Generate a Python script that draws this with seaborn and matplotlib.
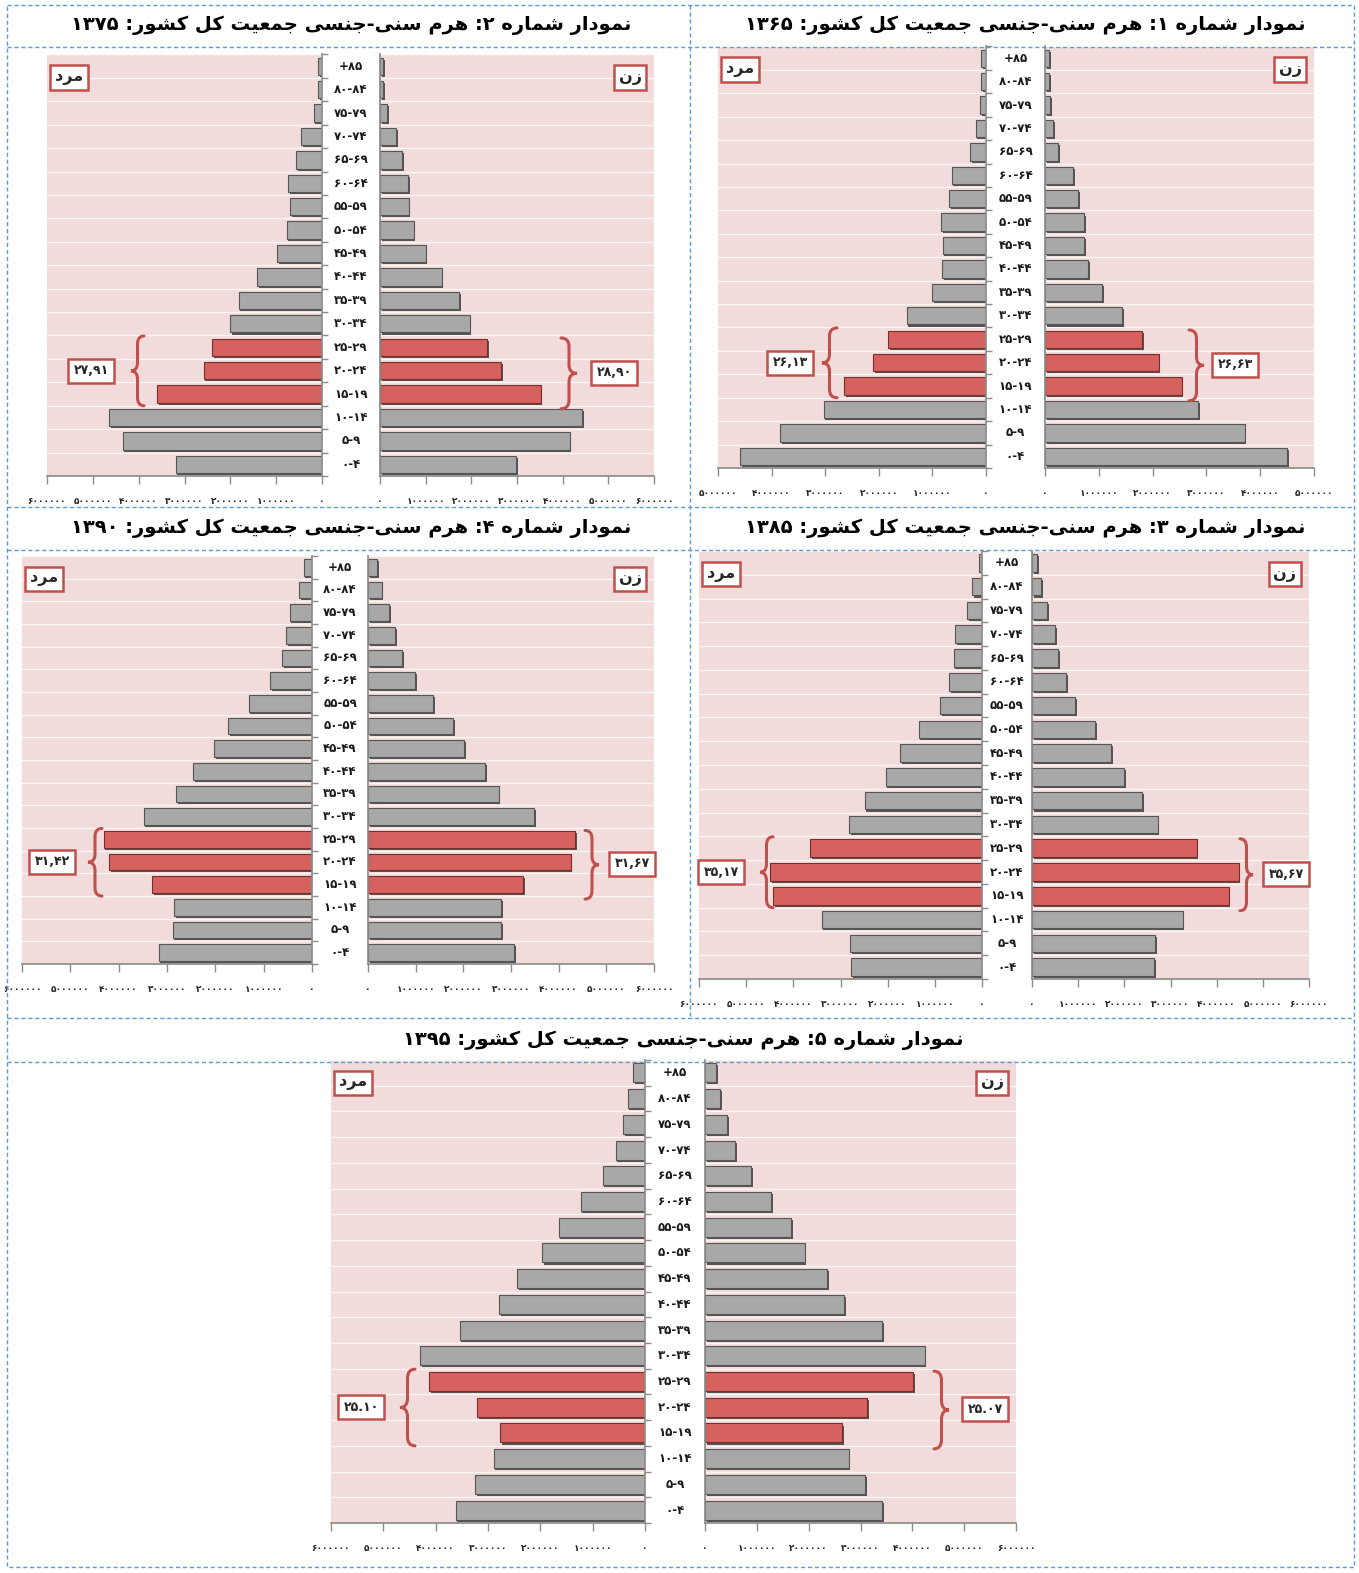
import re
import numpy as np
import pandas as pd
import matplotlib
matplotlib.use('Agg')
import matplotlib.pyplot as plt
import matplotlib.transforms as mtransforms
import matplotlib.patheffects as pe
from matplotlib.path import Path
from matplotlib.patches import PathPatch
import seaborn as sns

sns.set_theme(style='white')
plt.rcParams['font.family'] = ['DejaVu Sans']

# ---- data -------------------------------------------------------------
ages = ['+۸۵', '۸۰-۸۴', '۷۵-۷۹', '۷۰-۷۴', '۶۵-۶۹', '۶۰-۶۴', '۵۵-۵۹', '۵۰-۵۴', '۴۵-۴۹',
        '۴۰-۴۴', '۳۵-۳۹', '۳۰-۳۴', '۲۵-۲۹', '۲۰-۲۴', '۱۵-۱۹', '۱۰-۱۴', '۵-۹', '۰-۴']
youth_ages = ['۲۵-۲۹', '۲۰-۲۴', '۱۵-۱۹']

years = ['۱۳۶۵', '۱۳۷۵', '۱۳۸۵', '۱۳۹۰', '۱۳۹۵']
chart_numbers = ['۱', '۲', '۳', '۴', '۵']

male_1365 = [90000, 90000, 110000, 190000, 300000, 640000, 690000, 840000, 810000,
             820000, 1010000, 1480000, 1820000, 2100000, 2640000, 3030000, 3840000, 4590000]
female_1365 = [80000, 80000, 90000, 150000, 250000, 520000, 620000, 730000, 730000,
               800000, 1060000, 1440000, 1810000, 2110000, 2540000, 2850000, 3710000, 4500000]

male_1375 = [90000, 90000, 180000, 460000, 570000, 740000, 700000, 770000, 980000,
             1420000, 1820000, 2010000, 2390000, 2580000, 3590000, 4640000, 4350000, 3190000]
female_1375 = [70000, 70000, 150000, 350000, 480000, 610000, 630000, 740000, 1000000,
               1350000, 1740000, 1960000, 2350000, 2650000, 3520000, 4430000, 4150000, 2980000]

male_1385 = [60000, 210000, 320000, 570000, 600000, 700000, 890000, 1340000, 1740000,
             2040000, 2490000, 2810000, 3640000, 4490000, 4430000, 3400000, 2790000, 2770000]
female_1385 = [110000, 200000, 330000, 500000, 570000, 740000, 930000, 1370000, 1720000,
               2000000, 2390000, 2720000, 3570000, 4480000, 4260000, 3260000, 2670000, 2650000]

male_1390 = [170000, 270000, 460000, 540000, 620000, 870000, 1310000, 1730000, 2020000,
             2460000, 2810000, 3480000, 4310000, 4190000, 3310000, 2850000, 2880000, 3170000]
female_1390 = [190000, 290000, 440000, 570000, 720000, 990000, 1370000, 1790000, 2020000,
               2460000, 2740000, 3490000, 4340000, 4250000, 3260000, 2800000, 2800000, 3070000]

male_1395 = [230000, 330000, 420000, 560000, 810000, 1230000, 1650000, 1960000, 2440000,
             2790000, 3540000, 4290000, 4120000, 3210000, 2770000, 2890000, 3250000, 3620000]
female_1395 = [210000, 290000, 430000, 580000, 890000, 1280000, 1660000, 1920000, 2360000,
               2690000, 3420000, 4240000, 4020000, 3130000, 2650000, 2770000, 3090000, 3420000]

male_series = [male_1365, male_1375, male_1385, male_1390, male_1395]
female_series = [female_1365, female_1375, female_1385, female_1390, female_1395]

youth_share_male = ['۲۶,۱۳', '۲۷,۹۱', '۳۵,۱۷', '۳۱,۴۲', '۲۵.۱۰']
youth_share_female = ['۲۶,۶۳', '۲۸,۹۰', '۳۵,۶۷', '۳۱,۶۷', '۲۵.۰۷']

tick_values = [0, 1000000, 2000000, 3000000, 4000000, 5000000, 6000000]
tick_labels = ['۰', '۱۰۰۰۰۰۰', '۲۰۰۰۰۰۰', '۳۰۰۰۰۰۰', '۴۰۰۰۰۰۰', '۵۰۰۰۰۰۰', '۶۰۰۰۰۰۰']

male_word = 'مرد'
female_word = 'زن'
title_template = 'نمودار شماره {n}: هرم سنی-جنسی جمعیت کل کشور: {y}'

# ---- Persian shaping (matplotlib draws no joined letters itself) ----
FORMS = {
    'ا': ('\uFE8D', '\uFE8E', None, None),
    'د': ('\uFEA9', '\uFEAA', None, None),
    'ر': ('\uFEAD', '\uFEAE', None, None),
    'ز': ('\uFEAF', '\uFEB0', None, None),
    'و': ('\uFEED', '\uFEEE', None, None),
    'ن': ('\uFEE5', '\uFEE6', '\uFEE7', '\uFEE8'),
    'م': ('\uFEE1', '\uFEE2', '\uFEE3', '\uFEE4'),
    'ش': ('\uFEB5', '\uFEB6', '\uFEB7', '\uFEB8'),
    'س': ('\uFEB1', '\uFEB2', '\uFEB3', '\uFEB4'),
    'ه': ('\uFEE9', '\uFEEA', '\uFEEB', '\uFEEC'),
    'ج': ('\uFE9D', '\uFE9E', '\uFE9F', '\uFEA0'),
    'ع': ('\uFEC9', '\uFECA', '\uFECB', '\uFECC'),
    'ت': ('\uFE95', '\uFE96', '\uFE97', '\uFE98'),
    'ل': ('\uFEDD', '\uFEDE', '\uFEDF', '\uFEE0'),
    'ی': ('\uFBFC', '\uFBFD', '\uFBFE', '\uFBFF'),
    'ک': ('\uFB8E', '\uFB8F', '\uFB90', '\uFB91'),
}


def shape(text):
    out = []
    for i, ch in enumerate(text):
        if ch not in FORMS:
            out.append(ch)
            continue
        prev = text[i - 1] if i > 0 else ''
        nxt = text[i + 1] if i + 1 < len(text) else ''
        jp = prev in FORMS and FORMS[prev][2] is not None
        jn = nxt in FORMS and FORMS[ch][2] is not None
        iso, fin, ini, med = FORMS[ch]
        out.append(med if (jp and jn) else fin if jp else ini if jn else iso)
    vis = ''.join(out)[::-1]
    return re.sub(r'[\u06F0-\u06F9.,]+', lambda m: m.group(0)[::-1], vis)


# ---- layout (figure pixels) ----
W, H = 1359, 1573
fig = plt.figure(figsize=(W / 100, H / 100), dpi=100)
fig.patch.set_facecolor('white')

layouts = [
    dict(male=(718, 986), female=(1045, 1314), y=(46.5, 468), xmax=5e6, title=(1025, 25),
         brace_m=(837, 822, 790), brace_f=(1189, 1204, 1235)),
    dict(male=(47, 322), female=(380, 654), y=(54.5, 476), xmax=6e6, title=(351, 25),
         brace_m=(144, 131, 91), brace_f=(561, 577, 614)),
    dict(male=(699, 982), female=(1032, 1309), y=(551, 979), xmax=6e6, title=(1025, 528),
         brace_m=(773, 760, 721), brace_f=(1240, 1253, 1286)),
    dict(male=(22, 312), female=(368, 654), y=(556, 964), xmax=6e6, title=(351, 528),
         brace_m=(102, 88, 52), brace_f=(585, 599, 632)),
    dict(male=(331, 645), female=(705, 1016), y=(1060, 1523), xmax=6e6, title=(683, 1040),
         brace_m=(415, 400, 361), brace_f=(934, 949, 985)),
]

PINK = '#F2DCDB'
GRAY = '#A8A8A8'
RED = '#D6625F'
ACCENT = '#C0504D'
FRAME = '#5B9BD5'


def px_rect(x0, y0, x1, y1):
    return [x0 / W, 1 - y1 / H, (x1 - x0) / W, (y1 - y0) / H]


ov = fig.add_axes([0, 0, 1, 1], zorder=10)
ov.set_xlim(0, W)
ov.set_ylim(H, 0)
ov.axis('off')
ov.patch.set_visible(False)


def brace(back, tip, ytop, ybot):
    d = tip - back
    q = (ybot - ytop) * 0.12
    ym = (ytop + ybot) / 2
    h = back + d / 2
    verts = [(back, ytop), (h, ytop), (h, ytop + q), (h, ym - q), (h, ym), (tip, ym),
             (h, ym), (h, ym + q), (h, ybot - q), (h, ybot), (back, ybot)]
    codes = [Path.MOVETO, Path.CURVE3, Path.CURVE3, Path.LINETO, Path.CURVE3, Path.CURVE3,
             Path.CURVE3, Path.CURVE3, Path.LINETO, Path.CURVE3, Path.CURVE3]
    ov.add_patch(PathPatch(Path(verts, codes), fill=False, edgecolor=ACCENT, lw=2.2,
                           capstyle='round'))


def ypix(ax, v):
    return H - ax.transData.transform((0, v))[1]


colors = [RED if a in youth_ages else GRAY for a in ages]
edges = ['#7A2E2C' if a in youth_ages else '#555555' for a in ages]
bar_fx = [pe.SimplePatchShadow(offset=(1.2, -1.5), shadow_rgbFace='#3c3c3c', alpha=0.85),
          pe.Normal()]

for k, lay in enumerate(layouts):
    df = pd.DataFrame({'age': ages, 'male': male_series[k], 'female': female_series[k]})
    y0, y1 = lay['y']
    axm = fig.add_axes(px_rect(lay['male'][0], y0, lay['male'][1], y1))
    axf = fig.add_axes(px_rect(lay['female'][0], y0, lay['female'][1], y1))
    for ax, col in ((axm, 'male'), (axf, 'female')):
        sns.barplot(data=df, x=col, y='age', hue='age', palette=colors, legend=False,
                    saturation=1, width=0.74, ax=ax, linewidth=0.8)
        for p, ec in zip(ax.patches, edges):
            p.set_edgecolor(ec)
            p.set_path_effects(bar_fx)
        ax.set_facecolor(PINK)
        ax.set_ylim(len(ages) - 0.5, -0.5)
        ax.set_xlabel('')
        ax.set_ylabel('')
        ax.set_yticks([])
        ax.set_yticks(np.arange(-0.5, len(ages), 1), minor=True)
        ax.grid(axis='y', which='minor', color='white', lw=0.9, alpha=0.8)
        ax.grid(axis='x', visible=False)
        ticks = [t for t in tick_values if t <= lay['xmax']]
        ax.set_xticks(ticks)
        ax.set_xticklabels(tick_labels[:len(ticks)], fontsize=6.5, fontweight='bold')
        ax.tick_params(axis='x', length=6, color='#8c8c8c', width=1, pad=9, bottom=True)
        for s in ax.spines.values():
            s.set_visible(False)
        ax.spines['bottom'].set_visible(True)
        ax.spines['bottom'].set_color('#8c8c8c')
    axm.set_xlim(lay['xmax'], 0)
    axf.set_xlim(0, lay['xmax'])
    axm.spines['right'].set_visible(True)
    axm.spines['right'].set_color('#8c8c8c')
    axf.spines['left'].set_visible(True)
    axf.spines['left'].set_color('#8c8c8c')
    axm.tick_params(axis='y', which='minor', right=True, left=False, length=4,
                    color='#8c8c8c', direction='out')
    axf.tick_params(axis='y', which='minor', left=True, length=0)

    # age labels in the gap
    xc = (lay['male'][1] + lay['female'][0]) / 2 / W
    tr = mtransforms.blended_transform_factory(fig.transFigure, axm.transData)
    for i, a in enumerate(ages):
        axm.text(xc, i, a, transform=tr, ha='center', va='center', fontsize=8.5,
                 fontweight='bold', color='#1a1a1a', clip_on=False)

    # sex boxes
    box = dict(boxstyle='square,pad=0.3', facecolor='white', edgecolor=ACCENT, lw=1.8)
    axm.annotate(shape(male_word), (0, 1), xycoords='axes fraction', xytext=(22, -23),
                 textcoords='offset pixels', ha='center', va='center', fontsize=11.5,
                 fontweight='bold', bbox=box)
    axf.annotate(shape(female_word), (1, 1), xycoords='axes fraction', xytext=(-24, -23),
                 textcoords='offset pixels', ha='center', va='center', fontsize=11.5,
                 fontweight='bold', bbox=box)

    # braces and youth share boxes
    ytop = ypix(axm, ages.index(youth_ages[0]) - 0.48)
    ybot = ypix(axm, ages.index(youth_ages[-1]) + 0.5)
    ymid = ypix(axm, ages.index(youth_ages[1]))
    vbox = dict(boxstyle='square,pad=0.45', facecolor='white', edgecolor=ACCENT, lw=1.8)
    back, tip, bx = lay['brace_m']
    brace(back, tip, ytop, ybot)
    ov.text(bx, ymid, youth_share_male[k], ha='center', va='center', fontsize=9,
            fontweight='bold', bbox=vbox)
    back, tip, bx = lay['brace_f']
    brace(back, tip, ytop + 2, ybot + 3)
    ov.text(bx, ymid + 2, youth_share_female[k], ha='center', va='center', fontsize=9,
            fontweight='bold', bbox=vbox)

    # title
    tx, ty = lay['title']
    ov.text(tx, ty, shape(title_template.format(n=chart_numbers[k], y=years[k])),
            ha='center', va='center', fontsize=14, fontweight='bold', color='black')

# dashed frame
dash = dict(color=FRAME, lw=1, ls=(0, (3, 2)))
ov.plot([7, 1354, 1354, 7, 7], [5, 5, 1567, 1567, 5], **dash)
for yy in (47, 507, 550, 1018, 1062):
    ov.plot([7, 1354], [yy, yy], **dash)
ov.plot([690, 690], [5, 1018], **dash)

fig.savefig('out.png', dpi=100)
